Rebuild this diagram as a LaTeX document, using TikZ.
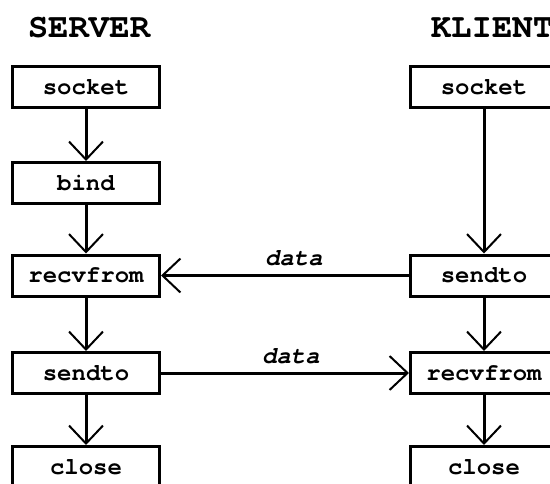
\documentclass[tikz,border=0pt]{standalone}
\usepackage{fontspec}
\setmonofont{texgyrecursor}[Extension=.otf, UprightFont=*-regular, BoldFont=*-bold,
  ItalicFont=*-italic, BoldItalicFont=*-bolditalic]
\usetikzlibrary{arrows.meta}
\tikzset{
  callbox/.style={draw, line width=3pt, minimum width=147pt, minimum height=41pt,
    inner sep=0pt, font=\ttfamily\bfseries\fontsize{24}{24}\selectfont},
  flow/.style={line width=3pt, -{Straight Barb[length=18pt, width=34pt, line width=2pt]}},
  sidetitle/.style={font=\ttfamily\bfseries\fontsize{34}{34}\selectfont, anchor=base, inner sep=0pt},
  datalabel/.style={font=\ttfamily\bfseries\itshape\fontsize{24}{24}\selectfont, anchor=base, inner sep=0pt}
}
\begin{document}
\begin{tikzpicture}[x=1pt, y=-1pt]
  \useasboundingbox (0,0) rectangle (550,483);
  \clip (0,0) rectangle (550,483);

  % column headings
  \node[sidetitle] (srvtitle) at (89,37) {SERVER};
  \node[sidetitle] (clititle) at (492,37) {KLIENT};

  % server side calls
  \node[callbox] (ssocket) at (86,87)    {socket};
  \node[callbox] (sbind)   at (86,183)   {bind};
  \node[callbox] (srecv)   at (86,275.5) {recvfrom};
  \node[callbox] (ssend)   at (86,373)   {sendto};
  \node[callbox] (sclose)  at (86,467)   {close};

  % client side calls
  \node[callbox] (csocket) at (484,87)    {socket};
  \node[callbox] (csend)   at (484,275.5) {sendto};
  \node[callbox] (crecv)   at (484,373)   {recvfrom};
  \node[callbox] (cclose)  at (484,467)   {close};

  % call order on each side
  \draw[flow] (ssocket) -- (sbind);
  \draw[flow] (sbind)   -- (srecv);
  \draw[flow] (srecv)   -- (ssend);
  \draw[flow] (ssend)   -- (sclose);
  \draw[flow] (csocket) -- (csend);
  \draw[flow] (csend)   -- (crecv);
  \draw[flow] (crecv)   -- (cclose);

  % datagrams exchanged
  \draw[flow] (csend.west) -- node[datalabel, pos=0.464, yshift=10pt] {data} (srecv.east);
  \draw[flow] (ssend.east) -- node[datalabel, pos=0.524, yshift=10pt] {data} (crecv.west);
\end{tikzpicture}
\end{document}
